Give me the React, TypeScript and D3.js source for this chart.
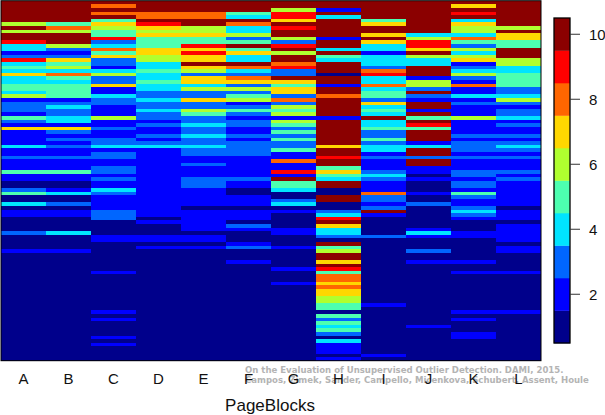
import React from "react";
import * as d3 from "d3";

// one list per method, top row first, binned score 1-10
const colA = [10,10,10,10,10,10,6,10,6,10,10,9,4,4,2,3,9,4,5,4,7,4,4,5,5,
  4,6,2,3,3,3,2,5,3,2,7,2,2,2,2,4,2,2,3,2,2,2,5,2,2,
  1,1,3,5,1,1,4,1,2,2,1,1,1,1,3,1,1,1,1,2,1,1,1,1,1,
  1,1,1,1,1,1,1,1,1,1,1,1,1,1,1,1,1,1,1,1,1,1,1,1,1];
const colB = [10,10,10,10,10,10,5,8,6,10,10,10,6,3,2,3,7,5,6,4,8,5,4,5,5,
  5,5,2,3,4,3,3,4,4,2,7,3,2,3,2,3,2,2,3,2,2,2,5,2,2,
  1,1,2,4,1,1,3,1,2,2,1,1,1,1,4,1,1,1,1,2,1,1,1,1,1,
  1,1,1,1,1,1,1,1,1,1,1,1,1,1,1,1,1,1,1,1,1,1,1,1,1];
const colC = [10,8,10,8,10,5,7,6,5,5,9,3,4,8,5,7,3,3,2,4,6,3,3,7,2,
  2,4,3,3,2,2,2,6,2,2,3,2,2,3,3,4,2,3,3,2,2,3,3,2,3,
  2,2,4,3,2,2,2,2,3,3,3,1,1,1,1,2,2,1,1,1,1,1,1,1,1,
  2,1,1,1,1,1,1,1,1,1,1,2,1,2,1,1,1,1,2,1,2,1,1,1,1];
const colD = [10,10,10,8,8,10,9,7,6,7,5,5,5,7,7,6,6,4,4,5,4,4,5,4,4,
  3,3,4,3,3,4,3,3,2,3,2,2,3,2,3,4,2,2,2,2,2,2,2,2,2,
  2,2,2,2,2,2,2,2,2,2,1,2,1,1,1,2,2,1,2,1,1,1,1,1,1,
  1,1,1,1,1,1,1,1,1,1,1,1,1,1,1,1,1,1,1,1,1,1,1,1,1];
const colE = [10,10,10,8,8,10,10,6,6,7,5,5,9,7,9,7,7,10,7,6,3,7,7,4,6,
  3,3,7,3,3,6,5,3,3,4,3,3,4,3,3,4,3,3,2,2,3,2,2,2,3,
  3,3,2,2,2,2,2,1,2,2,2,2,2,2,1,2,2,1,2,1,1,1,1,1,1,
  1,1,1,1,1,1,1,1,1,1,1,1,1,1,1,1,1,1,1,1,1,1,1,1,1];
const colF = [10,10,10,5,4,10,8,4,4,6,3,5,10,5,7,4,4,10,8,4,3,8,7,3,6,
  3,5,6,2,3,5,3,2,3,3,2,2,3,2,3,3,3,3,2,2,2,2,2,2,3,
  2,2,1,1,2,2,2,1,2,2,2,1,3,2,1,1,1,2,3,1,1,1,2,1,1,
  1,1,1,1,1,1,1,1,1,1,1,1,1,1,1,1,1,1,1,1,1,1,1,1,1];
const colG = [10,10,6,9,9,7,10,9,10,10,6,3,9,10,6,10,10,8,9,3,3,10,7,5,7,
  7,3,8,3,6,5,6,2,6,5,3,5,3,5,3,3,5,2,2,8,2,2,9,2,10,
  5,5,4,1,1,3,4,1,2,1,1,1,1,2,2,1,1,1,2,1,1,1,1,1,2,
  1,1,1,2,1,1,1,1,1,1,1,1,1,1,1,1,1,1,1,1,1,1,1,1,1];
const colH = [10,10,2,10,4,10,10,10,10,10,2,10,10,4,10,5,4,10,10,10,1,10,10,2,10,
  10,8,10,10,10,10,10,2,10,10,10,10,10,10,10,7,10,10,9,10,10,5,7,5,4,
  10,10,1,1,10,10,1,1,3,4,9,10,7,4,4,3,1,10,5,6,10,10,7,10,9,
  5,8,8,7,8,7,7,6,6,5,5,1,5,3,5,4,5,3,1,4,2,2,2,1,2];
const colI = [10,10,10,10,10,5,7,10,10,7,10,7,4,4,2,4,4,4,3,8,9,4,4,8,4,
  5,5,3,7,4,5,4,10,4,4,5,3,3,5,3,4,4,2,3,2,2,2,3,4,3,
  2,2,2,8,3,3,2,3,10,2,1,1,1,1,1,3,1,1,1,1,1,1,1,1,1,
  1,1,1,1,1,1,1,1,1,2,1,1,1,1,1,1,1,1,1,1,1,1,1,2,1];
const colJ = [10,10,10,10,10,10,10,10,10,4,6,9,9,7,10,6,4,4,10,10,10,2,6,6,3,
  10,3,2,10,10,2,10,5,10,9,5,10,10,10,2,4,10,10,3,10,10,2,2,1,2,
  1,1,1,2,1,1,3,1,1,1,1,1,1,2,4,2,1,1,1,3,1,1,2,1,1,
  1,1,1,1,1,1,1,1,1,1,1,1,1,1,1,2,1,1,1,1,1,1,1,1,1];
const colK = [10,7,10,9,10,4,7,6,6,4,8,5,3,6,4,6,7,2,3,4,6,3,2,8,2,
  2,4,2,3,2,2,2,6,2,2,2,2,3,2,3,3,3,2,3,2,2,2,3,3,2,
  3,3,2,5,3,2,2,3,4,3,2,1,1,1,2,2,1,1,1,1,1,1,2,1,1,
  2,1,1,1,1,1,1,1,1,1,1,2,1,2,1,1,1,2,2,1,1,1,1,1,1];
const colL = [10,10,10,10,10,10,10,6,10,7,7,5,5,10,10,10,6,6,4,4,5,5,5,5,3,
  3,4,6,3,2,3,3,4,2,3,2,2,3,2,3,4,3,2,3,2,2,2,3,2,3,
  2,2,2,2,2,2,2,1,2,2,2,1,2,2,2,2,2,1,2,2,1,1,1,1,1,
  2,1,1,1,1,1,1,1,1,1,1,2,1,1,1,1,1,1,1,1,1,1,1,1,1];

const columns = [colA, colB, colC, colD, colE, colF, colG, colH, colI, colJ, colK, colL];
const methods = ["A", "B", "C", "D", "E", "F", "G", "H", "I", "J", "K", "L"];
const levels = [1, 2, 3, 4, 5, 6, 7, 8, 9, 10];
const palette = ["#00008b", "#0000ff", "#0066ff", "#00e4ff", "#4dffb0", "#b0ff2f", "#ffd700", "#ff6600", "#ff0000", "#8b0000"];
const legendTicks = [2, 4, 6, 8, 10];
const citation = [
  "On the Evaluation of Unsupervised Outlier Detection. DAMI, 2015.",
  "Campos, Zimek, Sander, Campello, Micenkova, Schubert, Assent, Houle",
];

const sans = "'Liberation Sans', Arial, sans-serif";

export default function App() {
  const x = d3.scaleBand<string>().domain(methods).range([1, 541]);
  const y = d3.scaleBand<number>().domain(d3.range(100)).range([0.7, 360.7]);
  const color = d3.scaleOrdinal<number, string>().domain(levels).range(palette);
  const legend = d3.scaleLinear().domain([0.5, 10.5]).range([343, 18]);

  return (
    <svg width={605} height={415} style={{ position: "absolute", left: 0, top: 0 }} fontFamily={sans}>
      {columns.map((col, i) => (
        <g key={methods[i]}>
          {col.map((v, r) => (
            <rect key={r} x={x(methods[i])} y={y(r)} width={x.bandwidth()} height={y.bandwidth() + 0.3} fill={color(v)} shapeRendering="crispEdges" />
          ))}
        </g>
      ))}
      <rect x={1} y={0.7} width={540} height={360} fill="none" stroke="#000" strokeWidth={1} />

      {citation.map((line, i) => (
        <text key={i} x={245} y={372.5 + i * 10.8} fontFamily="'DejaVu Sans', sans-serif" fontWeight="bold" fontSize={8.55} fill="#b4b4b4">{line}</text>
      ))}

      {methods.map((m) => (
        <text key={m} x={x(m)! + x.bandwidth() / 2} y={384} textAnchor="middle" fontSize={15} fill="#111">{m}</text>
      ))}
      <text x={270} y={411} textAnchor="middle" fontSize={17} fill="#111">PageBlocks</text>

      {levels.map((l) => (
        <rect key={l} x={554} width={16} y={legend(l + 0.5)} height={legend(l - 0.5) - legend(l + 0.5) + 0.3} fill={color(l)} />
      ))}
      <rect x={554} y={18} width={16} height={325} fill="none" stroke="#000" strokeWidth={1.3} />
      {legendTicks.map((t) => (
        <g key={t}>
          <line x1={570} x2={580} y1={legend(t)} y2={legend(t)} stroke="#333" strokeWidth={1} />
          <text x={589} y={legend(t) + 5.5} fontSize={15} fill="#111">{t}</text>
        </g>
      ))}
    </svg>
  );
}
